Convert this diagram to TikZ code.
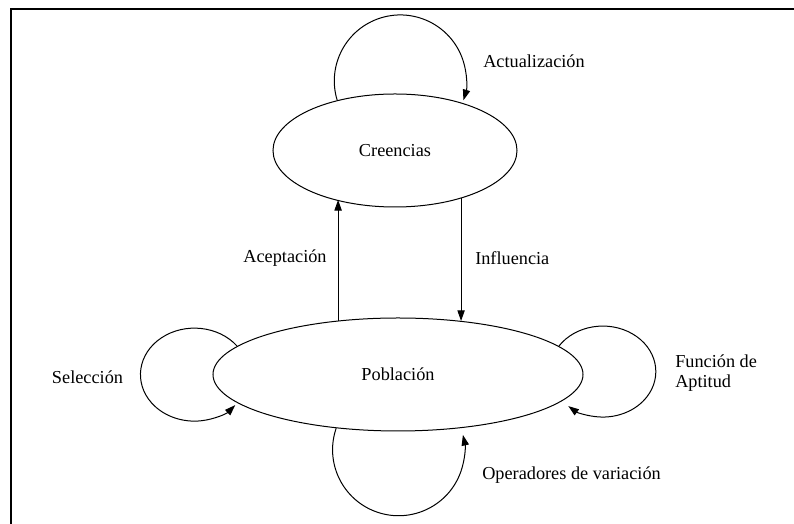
\documentclass[tikz,border=0pt]{standalone}
\usepackage{fontspec}
\setmainfont{Liberation Serif}
\usetikzlibrary{arrows.meta,shapes.geometric}

\begin{document}
\begin{tikzpicture}[x=0.75pt,y=0.75pt,
  state/.style={draw, ellipse, line width=0.75pt, inner sep=0pt,
    font=\fontsize{13.7}{16}\selectfont},
  lbl/.style={font=\fontsize{13.7}{15.5}\selectfont, inner sep=0pt},
  edge/.style={line width=0.75pt, -{Triangle[length=8pt,width=5.5pt]}}
]
\useasboundingbox (0,0) rectangle (794,524);
% frame
\draw[line width=1.5pt] (11,0) -- (11,515) -- (794,515);

% states
\node[state, minimum width=183pt, minimum height=84.75pt] (cre) at (395,373.5) {Creencias};
\node[state, minimum width=277.5pt, minimum height=84.75pt] (pob) at (398,149.5) {Población};

% exchange between the two spaces
\draw[edge] (pob.138.9) -- (pob.138.9 |- cre.219.9);
\draw[edge] (cre.-36.9) -- (cre.-36.9 |- pob.40.6);

% self loops
\draw[edge] (cre.139.9) arc[start angle=197, end angle=-17, radius=49.5pt];
\draw[edge] (pob.221.1) arc[start angle=161, end angle=373, radius=49.5pt];
\draw[edge] (pob.170.9) arc[start angle=37.8, end angle=319, x radius=40.5pt, y radius=34.875pt];
\draw[edge] (pob.10.4) arc[start angle=146, end angle=-130.7, x radius=39.75pt, y radius=34.125pt];

% labels
\node[lbl, anchor=west] (lact) at (483,463) {Actualización};
\node[lbl] (lacep) at (285,266) {Aceptación};
\node[lbl, anchor=west] (linf) at (475,266) {Influencia};
\node[lbl] (lsel) at (87.5,147) {Selección};
\node[lbl, anchor=west, align=left] (lfun) at (675,151) {Función de\\Aptitud};
\node[lbl, anchor=west] (lope) at (482,49) {Operadores de variación};
\end{tikzpicture}
\end{document}
